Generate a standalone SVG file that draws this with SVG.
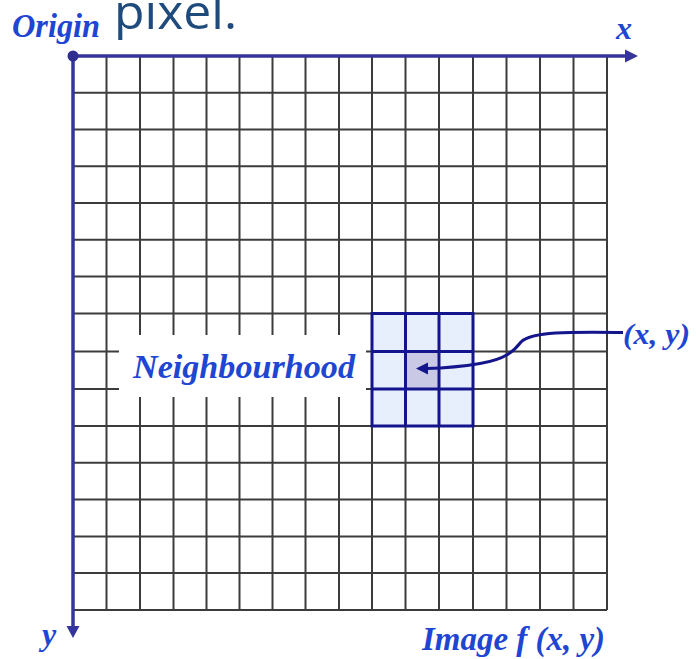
<svg xmlns="http://www.w3.org/2000/svg" width="696" height="659" viewBox="0 0 696 659">
<style>
.grid line{stroke:#3c3c3c;stroke-width:2}
.axis{stroke:#34349c;stroke-width:3.5;fill:none}
.lbl{font-family:"Liberation Serif","Times New Roman",serif;font-weight:bold;font-style:italic;fill:#1e46d2}
.nb{stroke:#14148c;stroke-width:3;fill:none}
</style>
<rect width="696" height="659" fill="#ffffff"/>
<g id="title">
<text x="114" y="29" font-family="'Open Sans','Noto Sans',sans-serif" font-size="47" fill="#1F4A7C" textLength="123" lengthAdjust="spacingAndGlyphs">pixel.</text>
</g>
<g id="image-grid" class="grid">
<line x1="106.5" y1="56" x2="106.5" y2="610"/>
<line x1="140" y1="56" x2="140" y2="610"/>
<line x1="173.5" y1="56" x2="173.5" y2="610"/>
<line x1="206.5" y1="56" x2="206.5" y2="610"/>
<line x1="239.5" y1="56" x2="239.5" y2="610"/>
<line x1="272.5" y1="56" x2="272.5" y2="610"/>
<line x1="305.5" y1="56" x2="305.5" y2="610"/>
<line x1="339" y1="56" x2="339" y2="610"/>
<line x1="372" y1="56" x2="372" y2="610"/>
<line x1="405.5" y1="56" x2="405.5" y2="610"/>
<line x1="439" y1="56" x2="439" y2="610"/>
<line x1="473" y1="56" x2="473" y2="610"/>
<line x1="506.5" y1="56" x2="506.5" y2="610"/>
<line x1="540" y1="56" x2="540" y2="610"/>
<line x1="573.5" y1="56" x2="573.5" y2="610"/>
<line x1="607" y1="56" x2="607" y2="610"/>
<line x1="73" y1="92.7" x2="607" y2="92.7"/>
<line x1="73" y1="129.5" x2="607" y2="129.5"/>
<line x1="73" y1="166.2" x2="607" y2="166.2"/>
<line x1="73" y1="203" x2="607" y2="203"/>
<line x1="73" y1="239.7" x2="607" y2="239.7"/>
<line x1="73" y1="276.5" x2="607" y2="276.5"/>
<line x1="73" y1="313.5" x2="607" y2="313.5"/>
<line x1="73" y1="351.5" x2="607" y2="351.5"/>
<line x1="73" y1="389" x2="607" y2="389"/>
<line x1="73" y1="426" x2="607" y2="426"/>
<line x1="73" y1="462.8" x2="607" y2="462.8"/>
<line x1="73" y1="499.6" x2="607" y2="499.6"/>
<line x1="73" y1="536.4" x2="607" y2="536.4"/>
<line x1="73" y1="573" x2="607" y2="573"/>
<line x1="73" y1="610" x2="607" y2="610"/>
</g>
<g id="neighbourhood-label">
<rect x="119" y="335" width="247" height="62" fill="#ffffff"/>
<text class="lbl" x="133" y="378" font-size="34" textLength="222" lengthAdjust="spacingAndGlyphs">Neighbourhood</text>
</g>
<g id="neighbourhood">
<rect x="372" y="313.5" width="101" height="112.5" fill="#e7effc"/>
<rect x="405.5" y="351.5" width="33.5" height="37.5" fill="#c9c9e6"/>
<rect class="nb" x="372" y="313.5" width="101" height="112.5"/>
<line class="nb" x1="405.5" y1="313.5" x2="405.5" y2="426"/>
<line class="nb" x1="439" y1="313.5" x2="439" y2="426"/>
<line class="nb" x1="372" y1="351.5" x2="473" y2="351.5"/>
<line class="nb" x1="372" y1="389" x2="473" y2="389"/>
</g>
<g id="axes">
<line class="axis" x1="73" y1="56" x2="627" y2="56"/>
<polygon points="638,56 625,49.5 625,62.5" fill="#34349c"/>
<line class="axis" x1="73" y1="56" x2="73" y2="627"/>
<polygon points="73,638 66.5,626 79.5,626" fill="#34349c"/>
<circle cx="73" cy="56" r="5.5" fill="#2e2e90"/>
</g>
<g id="labels">
<text class="lbl" x="12" y="37" font-size="33" textLength="88" lengthAdjust="spacingAndGlyphs">Origin</text>
<text class="lbl" x="616" y="39" font-size="32">x</text>
<text class="lbl" x="42" y="645" font-size="32">y</text>
<text class="lbl" x="422" y="650" font-size="34" textLength="183" lengthAdjust="spacingAndGlyphs">Image f (x, y)</text>
</g>
<g id="pixel-label">
<text class="lbl" x="623" y="344" font-size="30" textLength="67" lengthAdjust="spacingAndGlyphs">(x, y)</text>
</g>
<g id="connectors">
<path d="M 623 332.5 C 575 332, 532 331, 521 342 C 514 351, 506 359, 480 363.5 C 462 366.5, 445 368, 427 368.5" stroke="#14148c" stroke-width="3" fill="none"/>
<polygon points="416,368.5 428,362.5 428,374.5" fill="#14148c"/>
</g>
</svg>
